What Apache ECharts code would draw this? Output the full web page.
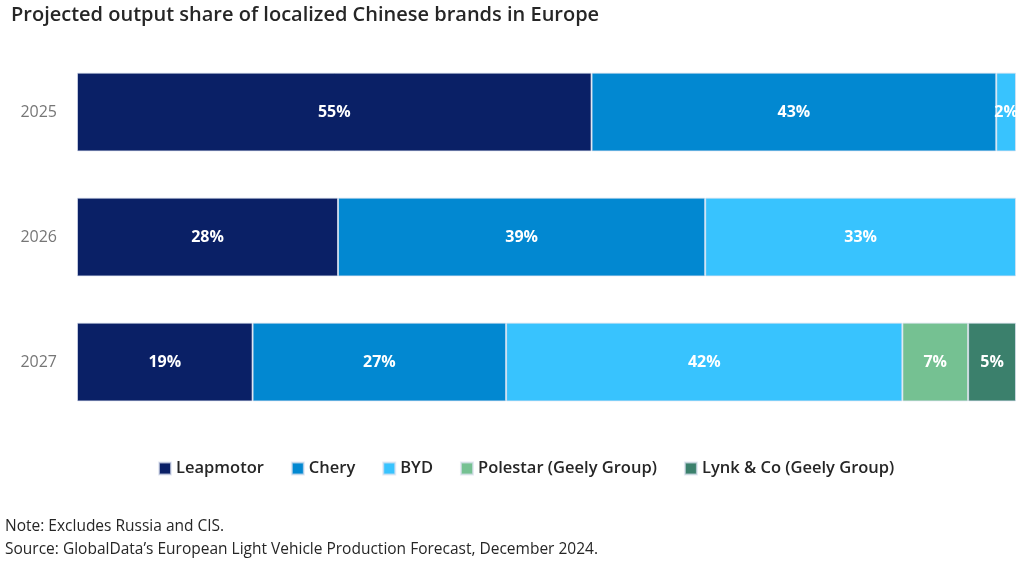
<!DOCTYPE html>
<html><head><meta charset="utf-8">
<script src="https://cdn.jsdelivr.net/npm/echarts@6/dist/echarts.min.js"></script>
<style>html,body{margin:0;padding:0;background:#fff}#c{width:1024px;height:564px}</style>
</head><body><div id="c"></div>
<script>
const years = ['2025', '2026', '2027'];
const seriesNames = ['Leapmotor', 'Chery', 'BYD', 'Polestar (Geely Group)', 'Lynk & Co (Geely Group)'];
const leapmotor = [54.8, 27.8, 18.7];
const chery = [43.1, 39.1, 27.0];
const byd = [2.1, 33.1, 42.2];
const polestar = [null, null, 7.0];
const lynk = [null, null, 5.1];
const colors = ['#0A2066', '#0288D1', '#38C3FE', '#75C192', '#3B806C'];
const values = [leapmotor, chery, byd, polestar, lynk];

const chart = echarts.init(document.getElementById('c'));
chart.setOption({
  animation: false,
  title: {
    text: 'Projected output share of localized Chinese brands in Europe',
    left: 6, top: 0,
    textStyle: { fontFamily: 'Open Sans', fontWeight: 600, fontSize: 20, color: '#262626' }
  },
  legend: {
    bottom: 82, left: 153,
    itemWidth: 12, itemHeight: 12, itemGap: 27,
    icon: 'rect',
    textStyle: { fontFamily: 'Open Sans', fontWeight: 600, fontSize: 16.5, color: '#262626' },
    data: seriesNames
  },
  graphic: [
    { type: 'text', left: 5, top: 519, style: { text: 'Note: Excludes Russia and CIS.', font: '15.5px "Open Sans"', fill: '#262626' } },
    { type: 'text', left: 5, top: 542, style: { text: 'Source: GlobalData\u2019s European Light Vehicle Production Forecast, December 2024.', font: '15.5px "Open Sans"', fill: '#262626' } }
  ],
  grid: { left: 77, right: 8, top: 49.5, bottom: 139.5, containLabel: false },
  xAxis: { type: 'value', min: 0, max: 100, show: false },
  yAxis: {
    type: 'category', data: years, inverse: true,
    axisLine: { show: false }, axisTick: { show: false },
    axisLabel: { margin: 20, fontFamily: 'Open Sans', fontSize: 16, color: '#767676' }
  },
  series: seriesNames.map((n, i) => ({
    name: n, type: 'bar', stack: 'total', barWidth: '63%',
    data: values[i],
    itemStyle: { color: colors[i], borderColor: 'rgba(220,225,240,0.7)', borderWidth: 1 },
    label: {
      show: true, position: 'inside',
      formatter: p => p.value == null ? '' : Math.round(p.value) + '%',
      fontFamily: 'Open Sans', fontWeight: 'bold', fontSize: 16, color: '#fff'
    }
  }))
});
</script></body></html>
